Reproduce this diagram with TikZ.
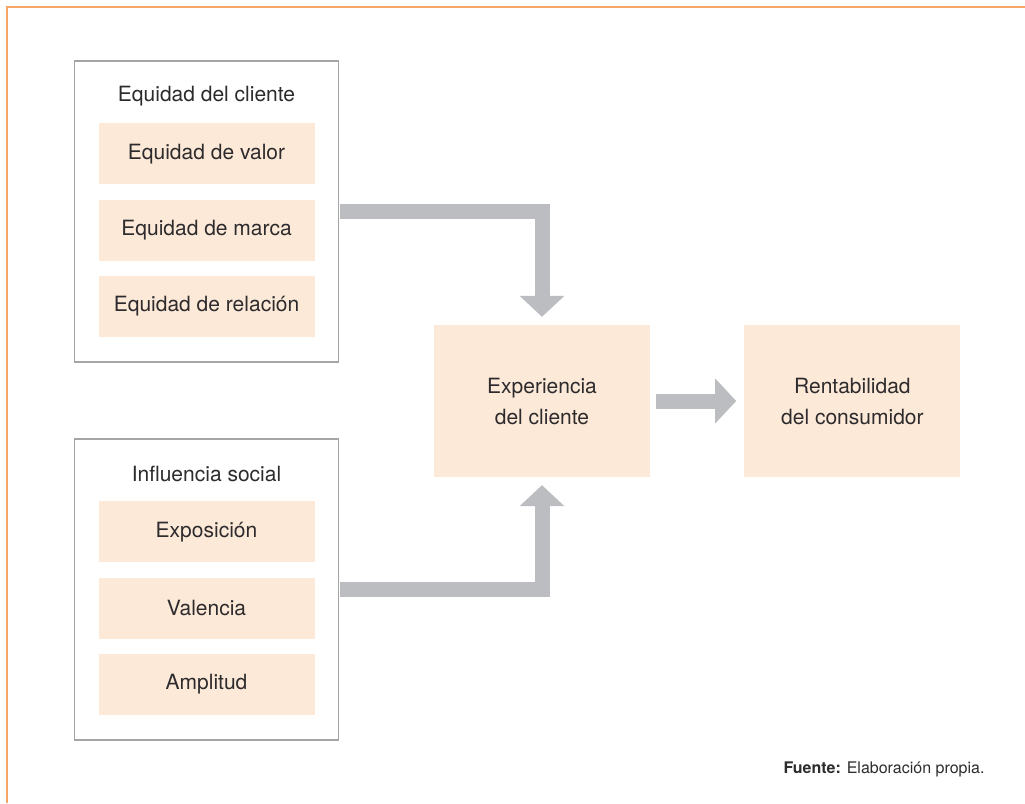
\documentclass[tikz,border=0pt]{standalone}
\usepackage{fontspec}
\setmainfont{TeX Gyre Heros}
\usepackage{xcolor}
\usetikzlibrary{positioning,arrows.meta,calc}

\definecolor{peach}{RGB}{253,233,215}
\definecolor{flowgray}{RGB}{188,189,192}
\definecolor{frameorange}{RGB}{246,166,102}
\definecolor{boxgray}{RGB}{165,165,165}
\definecolor{textgray}{RGB}{45,43,45}

\begin{document}
\begin{tikzpicture}[x=1pt, y=-1pt, node distance=15pt, every node/.style={font=\fontsize{21}{29}\selectfont, text=textgray}]
  \tikzset{
    group/.style={rectangle, draw=boxgray, line width=1.4pt, fill=white, minimum width=264pt, minimum height=301pt, inner sep=0pt},
    item/.style={rectangle, fill=peach, minimum width=216pt, minimum height=61pt, inner sep=0pt, align=center},
    stage/.style={rectangle, fill=peach, minimum width=216pt, minimum height=152pt, inner sep=0pt, align=center, font=\fontsize{21}{31}\selectfont},
    flow/.style={draw=flowgray, line width=15pt, line join=miter, -{Triangle[width=45pt, length=21pt, line width=0pt]}}
  }
  \useasboundingbox (0,0) rectangle (1025,803);

  % frame
  \draw[frameorange, line width=2pt] (7,803) -- (7,7) -- (1025,7);

  % customer equity
  \node[group] (eq) at (206.5,211.5) {};
  \node (eqtitle) at ([yshift=-36pt]eq.north) {Equidad del cliente};
  \node[item] (valor) at ([yshift=-93.5pt]eq.north) {Equidad de valor};
  \node[item, below=of valor] (marca) {Equidad de marca};
  \node[item, below=of marca] (relacion) {Equidad de relación};

  % social influence
  \node[group] (inf) at (206.5,589.5) {};
  \node (inftitle) at ([yshift=-36pt]inf.north) {Influencia social};
  \node[item] (expo) at ([yshift=-93.5pt]inf.north) {Exposición};
  \node[item, below=of expo] (valencia) {Valencia};
  \node[item, below=of valencia] (amplitud) {Amplitud};

  % outcomes
  \node[stage] (exp) at (542,401) {Experiencia\\del cliente};
  \node[stage, right=94pt of exp] (ren) {Rentabilidad\\del consumidor};

  % arrows
  \draw[flow, shorten <=0.7pt] (eq.east) -| ([yshift=8pt]exp.north);
  \draw[flow, shorten <=0.7pt] (inf.east) -| ([yshift=-8pt]exp.south);
  \draw[flow, shorten <=6pt, shorten >=8pt] (exp) -- (ren);

  % source
  \node[anchor=base east, font=\fontsize{16}{19}\selectfont] (fuente) at (988,773) {\textbf{Fuente:} Elaboración propia.};
\end{tikzpicture}
\end{document}
